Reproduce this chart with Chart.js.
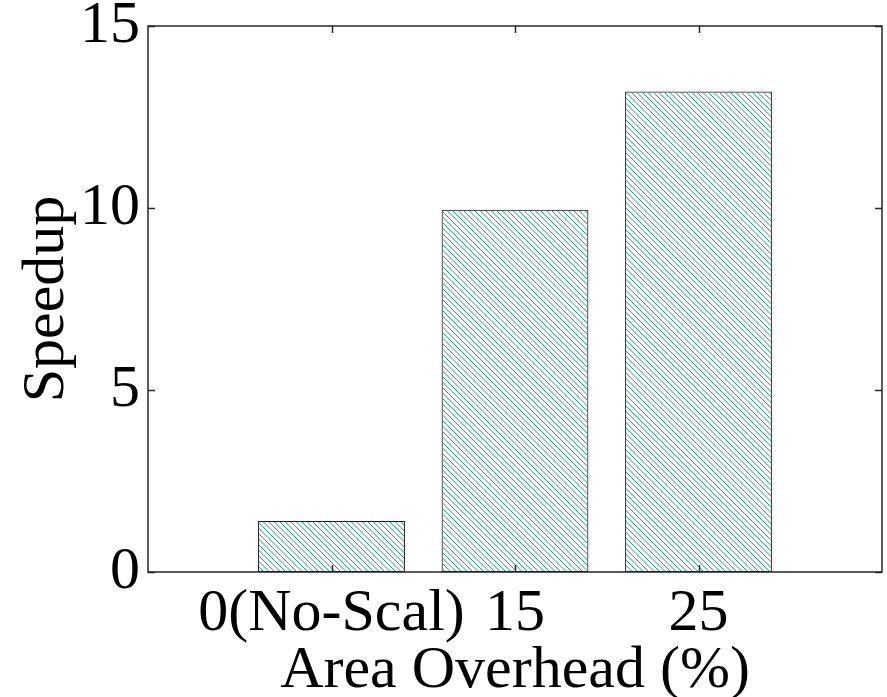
<!DOCTYPE html>
<html>
<head>
<meta charset="utf-8">
<script src="https://cdn.jsdelivr.net/npm/chart.js@4/dist/chart.umd.min.js"></script>
<style>
html,body{margin:0;padding:0;background:#fff;}
#wrap{width:887px;height:697px;position:relative;}
</style>
</head>
<body>
<div id="wrap"><canvas id="c" width="887" height="697"></canvas></div>
<script>
const categories = ['0(No-Scal)', '15', '25'];
const positions = [1, 2, 3];
const speedup = [1.4, 9.95, 13.2];
const yTicks = [0, 5, 10, 15];
const xTitle = 'Area Overhead (%)';
const yTitle = 'Speedup';

const FONT = '"Liberation Serif", "Times New Roman", serif';
const FS = 60;

function hatch() {
  const s = 11;
  const c = document.createElement('canvas');
  c.width = s; c.height = s;
  const g = c.getContext('2d');
  g.strokeStyle = '#1f9a7e';
  g.lineWidth = 1;
  for (const k of [-11, -5.5, 0, 5.5, 11]) {
    g.beginPath();
    g.moveTo(k - 1, -1);
    g.lineTo(k + s + 1, s + 1);
    g.stroke();
  }
  return document.getElementById('c').getContext('2d').createPattern(c, 'repeat');
}

const frame = {
  id: 'frame',
  afterDatasetsDraw(chart) {
    const {ctx, chartArea: a, scales} = chart;
    ctx.save();
    ctx.strokeStyle = '#262626';
    ctx.lineWidth = 1.5;
    ctx.strokeRect(a.left, a.top, a.right - a.left, a.bottom - a.top);
    const L = 7;
    ctx.beginPath();
    scales.y.ticks.forEach(t => {
      const p = Math.round(scales.y.getPixelForValue(t.value)) + 0.5;
      ctx.moveTo(a.left, p); ctx.lineTo(a.left + L, p);
      ctx.moveTo(a.right, p); ctx.lineTo(a.right - L, p);
    });
    scales.x.ticks.forEach(t => {
      const p = Math.round(scales.x.getPixelForValue(t.value)) + 0.5;
      ctx.moveTo(p, a.bottom); ctx.lineTo(p, a.bottom - L);
      ctx.moveTo(p, a.top); ctx.lineTo(p, a.top + L);
    });
    ctx.stroke();
    ctx.restore();
  }
};

new Chart(document.getElementById('c'), {
  type: 'bar',
  data: {
    datasets: [{
      data: positions.map((x, i) => ({x: x, y: speedup[i]})),
      backgroundColor: hatch(),
      borderColor: '#1a1a1a',
      borderWidth: 1,
      borderSkipped: false,
      barPercentage: 0.8,
      categoryPercentage: 1.0
    }]
  },
  options: {
    responsive: false,
    animation: false,
    devicePixelRatio: 1,
    layout: {padding: {top: 11, right: 5, left: 0, bottom: 0}},
    plugins: {legend: {display: false}, tooltip: {enabled: false}},
    scales: {
      x: {
        type: 'linear',
        offset: false,
        min: 0, max: 4,
        afterBuildTicks(sc) { sc.ticks = positions.map(v => ({value: v})); },
        afterFit(sc) { sc.height = 125; },
        grid: {display: false, drawTicks: false, offset: false},
        border: {display: false},
        ticks: {
          callback: (v) => categories[positions.indexOf(v)] ?? '',
          font: {family: FONT, size: FS},
          color: '#000',
          padding: 6,
          maxRotation: 0,
          autoSkip: false
        },
        title: {
          display: true, text: xTitle,
          font: {family: FONT, size: FS, lineHeight: 0.86},
          color: '#000',
          padding: 0
        }
      },
      y: {
        min: 0, max: 15,
        afterBuildTicks(sc) { sc.ticks = yTicks.map(v => ({value: v})); },
        afterFit(sc) { sc.width = 148; },
        grid: {display: false, drawTicks: false},
        border: {display: false},
        ticks: {
          font: {family: FONT, size: FS, lineHeight: 0.6},
          color: '#000',
          padding: 8
        },
        title: {
          display: true, text: yTitle,
          font: {family: FONT, size: FS, lineHeight: 1},
          color: '#000',
          padding: {top: 17, bottom: 0}
        }
      }
    }
  },
  plugins: [frame]
});
</script>
</body>
</html>
